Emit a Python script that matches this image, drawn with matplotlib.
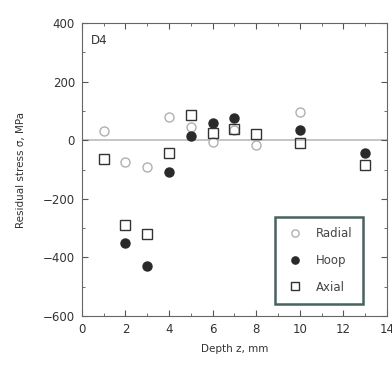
import matplotlib
matplotlib.use("Agg")
import matplotlib.pyplot as plt
from matplotlib.ticker import MultipleLocator

plt.rcParams.update({
    'font.family': 'DejaVu Sans',
    'font.size': 7.5,
    'xtick.direction': 'in',
    'ytick.direction': 'in',
    'xtick.labelsize': 8.5,
    'ytick.labelsize': 8.5,
})

# Depth (mm) and residual stress (MPa)
radial_z = [1, 2, 3, 4, 5, 6, 7, 8, 10]
radial_s = [30, -75, -90, 80, 45, -5, 35, -15, 95]

hoop_z = [2, 3, 4, 5, 6, 7, 10, 13]
hoop_s = [-350, -430, -110, 15, 60, 75, 35, -45]

axial_z = [1, 2, 3, 4, 5, 6, 7, 8, 10, 13]
axial_s = [-65, -290, -320, -45, 85, 25, 40, 20, -10, -85]

fig = plt.figure(figsize=(3.92, 3.67), dpi=100)
ax = fig.add_axes([0.209, 0.139, 0.778, 0.798])

ax.axhline(0, color='#bbbbbb', lw=1.2, zorder=0)

ax.plot(radial_z, radial_s, 'o', ms=6.5, mfc='white', mec='#b0b0b0', mew=1.0, label='Radial')
ax.plot(hoop_z, hoop_s, 'o', ms=6.5, mfc='#2a2a2a', mec='#2a2a2a', label='Hoop')
ax.plot(axial_z, axial_s, 's', ms=6.5, mfc='none', mec='#333333', mew=1.0, label='Axial')

ax.set_xlim(0, 14)
ax.set_ylim(-600, 400)
ax.xaxis.set_major_locator(MultipleLocator(2))
ax.xaxis.set_minor_locator(MultipleLocator(1))
ax.yaxis.set_major_locator(MultipleLocator(200))
ax.yaxis.set_minor_locator(MultipleLocator(100))
ax.tick_params(which='both', top=True, right=True, colors='#555555', labelcolor='#333333')
ax.tick_params(which='major', length=4, pad=5)
ax.tick_params(which='minor', length=2)
for sp in ax.spines.values():
    sp.set_color('#666666')

ax.text(0.4, 340, 'D4', fontsize=8.5, color='#333333', va='center')

ax.set_xlabel('Depth z, mm', color='#333333', labelpad=6)
ax.set_ylabel('Residual stress σ, MPa', color='#333333', labelpad=12)

leg = ax.legend(loc='lower right', frameon=True, fancybox=False, fontsize=8.5,
                labelspacing=1.15, handletextpad=0.9, borderpad=0.9,
                handlelength=1.6, markerscale=0.8,
                bbox_to_anchor=(0.94, 0.02))
leg.get_frame().set_edgecolor('#1a3a3a')
leg.get_frame().set_linewidth(1.8)
for t in leg.get_texts():
    t.set_color('#444444')

fig.savefig('out.png', dpi=100)
